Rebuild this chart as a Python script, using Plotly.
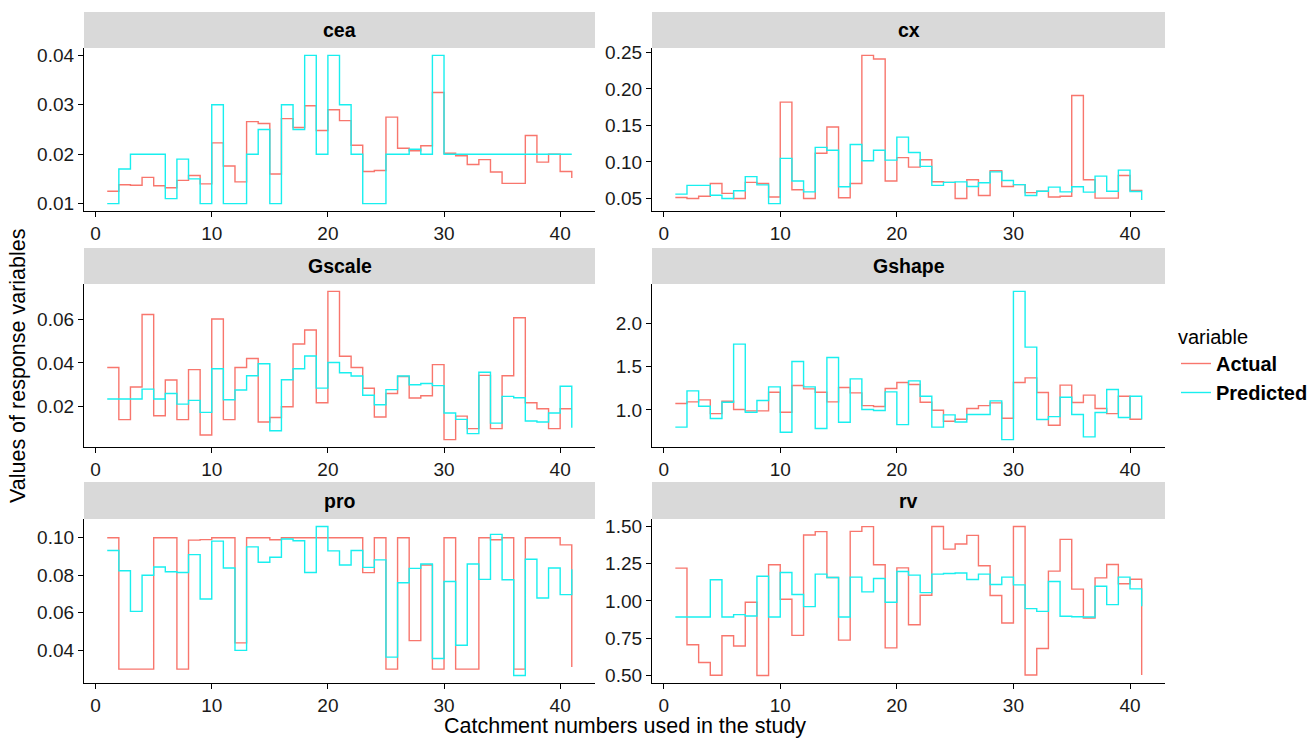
import plotly.graph_objects as go
from plotly.subplots import make_subplots

catchment = list(range(1, 42))

cea_actual = [0.0125, 0.0138, 0.0137, 0.0153, 0.0136, 0.0132, 0.0147, 0.0157, 0.0140, 0.0223,
              0.0176, 0.0144, 0.0266, 0.0262, 0.0160, 0.0272, 0.0254, 0.0298, 0.0248, 0.0290,
              0.0268, 0.0218, 0.0165, 0.0167, 0.0275, 0.0212, 0.0207, 0.0217, 0.0325, 0.0202,
              0.0197, 0.0179, 0.0189, 0.0164, 0.0141, 0.0141, 0.0238, 0.0184, 0.0200, 0.0165, 0.0152]
cea_predicted = [0.010, 0.017, 0.020, 0.020, 0.020, 0.011, 0.019, 0.015, 0.010, 0.030,
                 0.010, 0.010, 0.020, 0.025, 0.010, 0.030, 0.025, 0.040, 0.020, 0.040,
                 0.030, 0.020, 0.010, 0.010, 0.020, 0.020, 0.021, 0.020, 0.040, 0.020,
                 0.020, 0.020, 0.020, 0.020, 0.020, 0.020, 0.020, 0.020, 0.020, 0.020, 0.020]

cx_actual = [0.0514, 0.050, 0.053, 0.0705, 0.057, 0.050, 0.072, 0.0705, 0.052, 0.182,
             0.062, 0.050, 0.112, 0.148, 0.051, 0.0705, 0.246, 0.241, 0.074, 0.106,
             0.093, 0.103, 0.073, 0.072, 0.050, 0.0756, 0.054, 0.088, 0.0665, 0.069,
             0.058, 0.060, 0.052, 0.053, 0.191, 0.0756, 0.0505, 0.0505, 0.0815, 0.061, 0.060]
cx_predicted = [0.056, 0.068, 0.068, 0.0545, 0.050, 0.0605, 0.080, 0.0687, 0.043, 0.105,
                0.074, 0.059, 0.120, 0.116, 0.066, 0.124, 0.1016, 0.116, 0.1025, 0.134,
                0.113, 0.094, 0.068, 0.072, 0.0728, 0.0665, 0.0715, 0.0865, 0.0747, 0.069,
                0.054, 0.060, 0.0655, 0.059, 0.066, 0.0587, 0.0806, 0.060, 0.0888, 0.0596, 0.048]

gscale_actual = [0.0379, 0.0141, 0.029, 0.0621, 0.0159, 0.0322, 0.0141, 0.0369, 0.0071, 0.060,
                 0.0141, 0.0379, 0.042, 0.013, 0.0151, 0.020, 0.0486, 0.055, 0.0218, 0.0726,
                 0.043, 0.0379, 0.0284, 0.0153, 0.026, 0.0338, 0.024, 0.025, 0.0392, 0.005,
                 0.0157, 0.010, 0.0343, 0.010, 0.0341, 0.0606, 0.0218, 0.0191, 0.010, 0.0191, 0.0191]
gscale_predicted = [0.0235, 0.0235, 0.0235, 0.028, 0.0235, 0.026, 0.0212, 0.0229, 0.0174, 0.0373,
                    0.0232, 0.0276, 0.0341, 0.0396, 0.009, 0.0323, 0.0373, 0.0431, 0.0285, 0.0402,
                    0.0355, 0.034, 0.0252, 0.0209, 0.0278, 0.034, 0.030, 0.0306, 0.0296, 0.0171,
                    0.0142, 0.0077, 0.0357, 0.0125, 0.0247, 0.0241, 0.0135, 0.013, 0.0171, 0.0293, 0.0104]

gshape_actual = [1.074, 1.093, 1.116, 0.957, 1.10, 1.004, 0.988, 0.988, 1.205, 0.973,
                 1.283, 1.244, 1.205, 1.093, 1.26, 1.198, 1.05, 1.039, 1.248, 1.318,
                 1.295, 1.089, 0.996, 0.868, 0.891, 1.016, 1.05, 1.081, 0.903, 1.318,
                 1.372, 1.202, 0.822, 1.287, 1.085, 1.171, 1.016, 0.957, 1.159, 0.891, 0.891]
gshape_predicted = [0.80, 1.221, 1.043, 0.90, 1.089, 1.764, 0.973, 1.109, 1.267, 0.74,
                    1.562, 1.267, 0.783, 1.609, 0.857, 1.36, 1.004, 0.992, 1.209, 0.829,
                    1.337, 1.159, 0.80, 0.942, 0.86, 0.946, 0.946, 1.105, 0.655, 2.376,
                    1.729, 0.888, 0.922, 1.147, 0.946, 0.686, 0.969, 1.236, 0.911, 1.159, 0.888]

pro_actual = [0.100, 0.030, 0.030, 0.030, 0.100, 0.100, 0.030, 0.0987, 0.099, 0.100,
              0.100, 0.044, 0.100, 0.100, 0.0989, 0.100, 0.100, 0.100, 0.100, 0.100,
              0.100, 0.100, 0.0814, 0.100, 0.030, 0.100, 0.0452, 0.0855, 0.030, 0.100,
              0.030, 0.030, 0.100, 0.0989, 0.100, 0.030, 0.100, 0.100, 0.100, 0.0962, 0.0312]
pro_predicted = [0.0932, 0.0824, 0.0608, 0.080, 0.0844, 0.0819, 0.0815, 0.091, 0.0674, 0.0982,
                 0.0839, 0.040, 0.0951, 0.0869, 0.0896, 0.0993, 0.0984, 0.0815, 0.106, 0.093,
                 0.0855, 0.0932, 0.0842, 0.0882, 0.0364, 0.076, 0.0837, 0.086, 0.0357, 0.0767,
                 0.0427, 0.086, 0.0778, 0.1018, 0.0776, 0.0266, 0.0885, 0.0679, 0.0839, 0.0697, 0.0832]

rv_actual = [1.220, 0.706, 0.587, 0.501, 0.766, 0.697, 0.991, 0.499, 1.243, 1.011,
             0.769, 1.443, 1.465, 1.157, 0.737, 1.467, 1.499, 1.243, 0.685, 1.222,
             0.84, 1.038, 1.50, 1.348, 1.382, 1.44, 1.236, 1.036, 0.852, 1.50,
             0.503, 0.681, 1.20, 1.413, 1.079, 0.885, 1.155, 1.245, 1.115, 1.146, 0.503]
rv_predicted = [0.892, 0.892, 0.892, 1.142, 0.892, 0.908, 0.899, 1.166, 0.892, 1.191,
                1.043, 0.962, 1.18, 1.157, 0.892, 1.16, 1.061, 1.151, 0.991, 1.198,
                1.173, 1.056, 1.18, 1.184, 1.187, 1.144, 1.18, 1.11, 1.16, 1.108,
                0.948, 0.930, 1.13, 0.897, 0.894, 0.892, 1.099, 0.975, 1.16, 1.081, 0.964]

panel_names = ["cea", "cx", "Gscale", "Gshape", "pro", "rv"]
panel_actual = [cea_actual, cx_actual, gscale_actual, gshape_actual, pro_actual, rv_actual]
panel_predicted = [cea_predicted, cx_predicted, gscale_predicted, gshape_predicted, pro_predicted, rv_predicted]
panel_dtick = [0.01, 0.05, 0.02, 0.5, 0.02, 0.25]
panel_format = [".2f", ".2f", ".2f", ".1f", ".2f", ".2f"]
x_ticks = [0, 10, 20, 30, 40]

COL_ACT = "#F8766D"
COL_PRED = "#19EFEF"
FONT = "Liberation Sans, Arial, sans-serif"
TICK_FONT = dict(size=19, color="#1a1a1a", family=FONT)
W, H = 1312, 738

col_px = [(84, 595), (652, 1165)]
row_px = [(48, 211), (284, 447), (519, 683)]
strip_px = [(12, 48), (248, 284), (482, 519)]

fig = make_subplots(rows=3, cols=2)

shapes = []
annotations = []
for i, name in enumerate(panel_names):
    r, c = i // 2, i % 2
    act, pred = panel_actual[i], panel_predicted[i]
    fig.add_trace(go.Scatter(x=catchment, y=act, mode="lines", line=dict(color=COL_ACT, width=1.4, shape="hv"),
                             name="<b>Actual</b>", showlegend=(i == 0)), row=r + 1, col=c + 1)
    fig.add_trace(go.Scatter(x=catchment, y=pred, mode="lines", line=dict(color=COL_PRED, width=1.4, shape="hv"),
                             name="<b>Predicted</b>", showlegend=(i == 0)), row=r + 1, col=c + 1)
    lo = min(min(act), min(pred))
    hi = max(max(act), max(pred))
    pad = 0.05 * (hi - lo)
    x0, x1 = col_px[c]
    top, bot = row_px[r]
    sfx = "" if i == 0 else str(i + 1)
    fig.layout["xaxis" + sfx].update(domain=[x0 / W, x1 / W], range=[-1, 43], tickvals=x_ticks,
                                     showline=True, linecolor="black", linewidth=1.2, ticks="outside",
                                     ticklen=5, tickcolor="black", showgrid=False, zeroline=False,
                                     automargin=False, tickfont=TICK_FONT)
    fig.layout["yaxis" + sfx].update(domain=[1 - bot / H, 1 - top / H], range=[lo - pad, hi + pad],
                                     tick0=0, dtick=panel_dtick[i], tickformat=panel_format[i],
                                     showline=True, linecolor="black", linewidth=1.2, ticks="outside",
                                     ticklen=5, tickcolor="black", showgrid=False, zeroline=False,
                                     automargin=False, tickfont=TICK_FONT)
    st, sb = strip_px[r]
    shapes.append(dict(type="rect", xref="paper", yref="paper", x0=x0 / W, x1=x1 / W,
                       y0=1 - sb / H, y1=1 - st / H, fillcolor="#D9D9D9", line=dict(width=0), layer="below"))
    annotations.append(dict(text="<b>" + name + "</b>", xref="paper", yref="paper", x=(x0 + x1) / 2 / W,
                            y=1 - (st + sb) / 2 / H, showarrow=False, xanchor="center", yanchor="middle",
                            font=dict(size=19.5, color="black", family=FONT)))

annotations.append(dict(text="Catchment numbers used in the study", xref="paper", yref="paper",
                        x=(84 + 1165) / 2 / W, y=1 - 726 / H, showarrow=False, xanchor="center", yanchor="middle",
                        font=dict(size=21.5, color="black", family=FONT)))
annotations.append(dict(text="Values of response variables", xref="paper", yref="paper",
                        x=18 / W, y=1 - 366 / H, showarrow=False, xanchor="center", yanchor="middle", textangle=-90,
                        font=dict(size=21.5, color="black", family=FONT)))

fig.update_layout(
    width=W, height=H, margin=dict(l=0, r=0, t=0, b=0, autoexpand=False),
    plot_bgcolor="white", paper_bgcolor="white",
    shapes=shapes, annotations=annotations,
    legend=dict(x=1176 / W, y=1 - 365 / H, xanchor="left", yanchor="middle",
                title=dict(text="variable", font=dict(size=20, color="black", family=FONT)),
                font=dict(size=20, color="black", family=FONT), bgcolor="rgba(0,0,0,0)",
                itemwidth=30),
)

fig.write_html("out.html", config={"displayModeBar": False},
               post_script="document.body.style.margin='0';document.body.style.overflow='hidden';")
